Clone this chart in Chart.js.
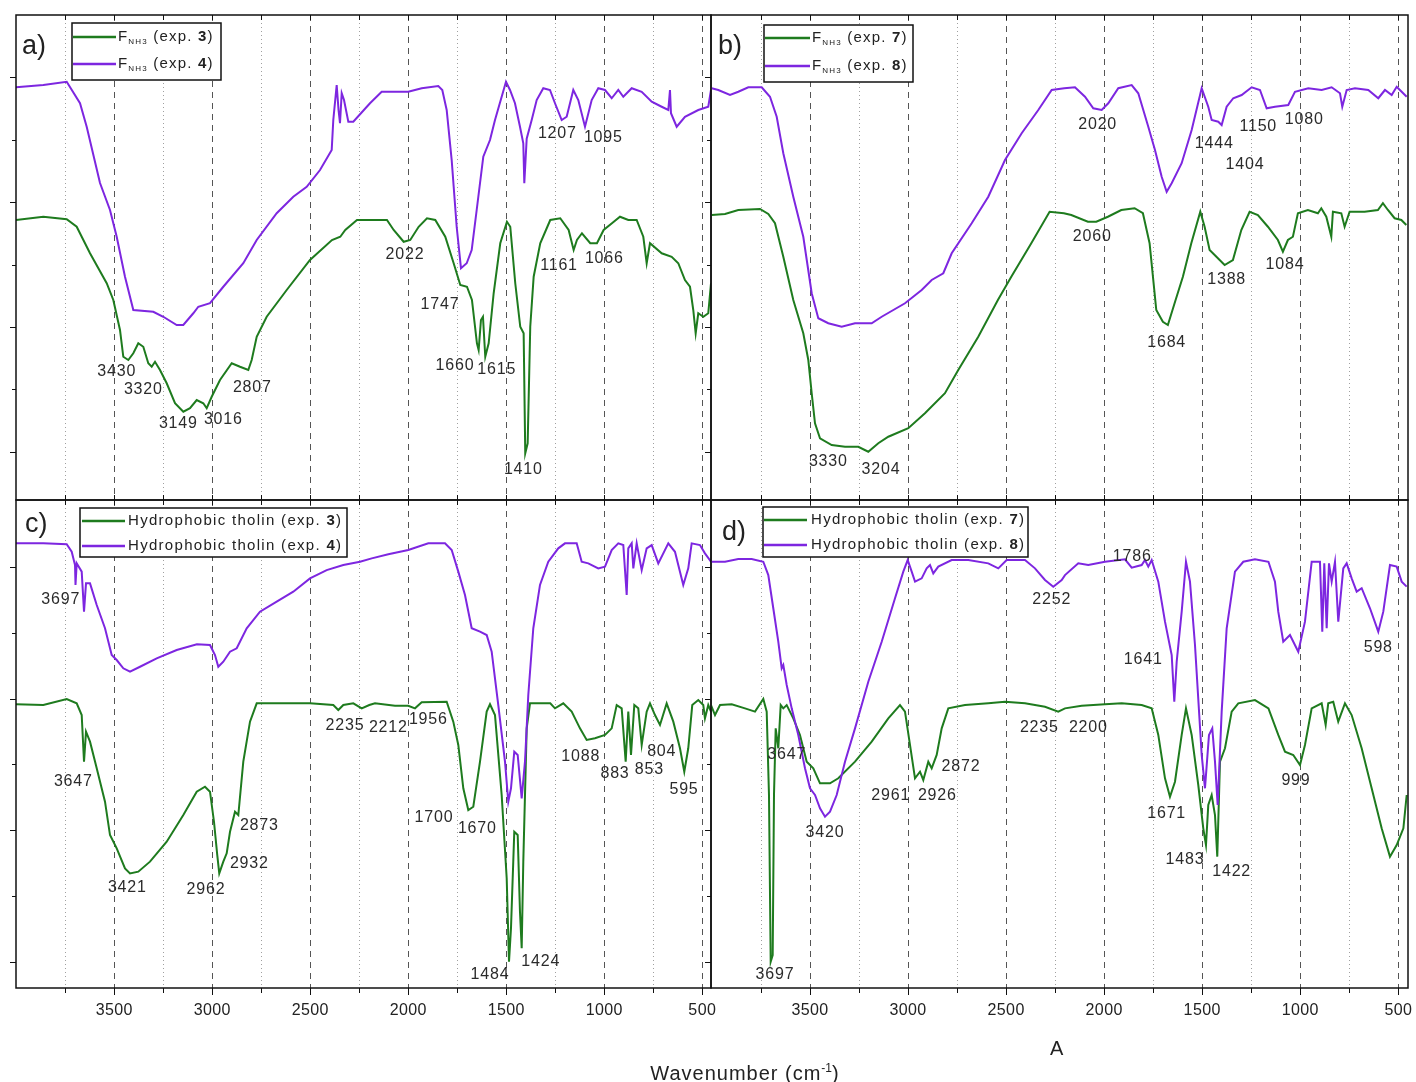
<!DOCTYPE html>
<html>
<head>
<meta charset="utf-8">
<script src="https://cdn.jsdelivr.net/npm/chart.js@4.4.1/dist/chart.umd.min.js"></script>
<style>
body { margin: 0; background: #fff; }
#wrap { position: relative; width: 1416px; height: 1082px; overflow: hidden; font-family: "Liberation Sans", Arial, sans-serif; color: #222; }
canvas { position: absolute; }
#xTitle { position: absolute; left: 545px; width: 400px; top: 1056px; text-align: center; font-size: 20px; line-height: 24px; letter-spacing: 1px; white-space: nowrap; }
#xTitle sup { font-size: 12px; letter-spacing: 0; }
#stray { position: absolute; left: 1050px; top: 1036px; font-size: 20px; line-height: 24px; }
</style>
</head>
<body>
<div id="wrap">
    <canvas id="panelA" width="712" height="501" style="left:0;top:0"></canvas>
    <canvas id="panelB" width="716" height="501" style="left:700px;top:0"></canvas>
    <canvas id="panelC" width="730" height="594" style="left:0;top:488px"></canvas>
    <canvas id="panelD" width="716" height="594" style="left:700px;top:488px"></canvas>
    <div id="xTitle">Wavenumber (cm<sup>-1</sup>)</div>
    <div id="stray">A</div>
</div>
<script>
// axis ticks (wavenumber, cm-1) and relative transmittance ticks
const xMajor = [3500, 3000, 2500, 2000, 1500, 1000, 500];
const xMinor = [3750, 3250, 2750, 2250, 1750, 1250, 750];
const yMajor = [0, 10, 20, 30];
const yMinor = [5, 15, 25];

// experiment numbers shown in the legends
const expA = [3, 4];
const expB = [7, 8];
const expC = [3, 4];
const expD = [7, 8];

// a) F_NH3 exp. 3 / exp. 4   [wavenumber, transmittance]
const aExp3 = [[4001.6,18.56],[3862.3,18.82],[3742.9,18.62],[3691.9,18.02],[3624,15.9],[3538.8,13.5],[3505.1,12.16],[3471,9.76],[3454.1,7.62],[3428.6,7.36],[3403.1,7.9],[3377.6,8.7],[3352.1,8.42],[3326.6,7.1],[3309.2,6.82],[3292.4,7.22],[3266.9,6.56],[3232.7,5.5],[3190.3,3.9],[3147.9,3.22],[3113.8,3.5],[3079.6,4.16],[3045.9,3.9],[3028.6,3.5],[3003.1,4.42],[2960.8,5.76],[2901,7.1],[2858.7,6.82],[2816.4,6.56],[2799.1,7.36],[2773.5,9.22],[2722.5,10.82],[2620.5,12.96],[2501.6,15.36],[2389.5,16.96],[2347,17.22],[2321.6,17.76],[2261.9,18.56],[2210.9,18.56],[2108.9,18.56],[2074.7,17.76],[2023.7,16.82],[1990,16.96],[1947.2,18.02],[1904.8,18.7],[1862.4,18.56],[1811.4,17.22],[1768.6,15.1],[1734.8,13.36],[1700.7,13.22],[1675.3,12.16],[1649.8,8.7],[1641.1,8.16],[1629.3,10.56],[1619.1,10.82],[1607.3,7.62],[1590,8.7],[1564.5,12.7],[1530.8,16.7],[1496.7,18.42],[1479.8,18.02],[1454.3,13.5],[1428.8,10.02],[1411.5,9.5],[1403.3,-0.1],[1391,0.7],[1377.8,10.02],[1360.4,14.02],[1326.8,16.7],[1275.7,18.56],[1224.7,18.7],[1181.9,17.76],[1156.4,16.16],[1139.6,16.96],[1114,17.5],[1071.7,16.7],[1037.5,16.7],[1003.4,17.76],[961,18.3],[920,18.82],[877.6,18.56],[834.8,18.56],[801,17.22],[783.8,15.1],[766.9,16.7],[707.2,15.9],[656.2,15.62],[622.5,15.1],[588.4,13.76],[562.8,13.22],[546,11.36],[533.8,9.5],[520.5,11.1],[495,10.82],[469.5,11.1],[455.6,13.5]];
const aExp4 = [[4001.6,29.18],[3862.3,29.36],[3742.9,29.62],[3675,27.9],[3640.9,26.02],[3573,21.52],[3522,19.36],[3487.8,17.22],[3445.5,14.02],[3403,11.36],[3301,11.22],[3250,10.82],[3181.7,10.16],[3148,10.16],[3097,11.1],[3071.5,11.62],[3011.8,11.9],[2943.9,13.22],[2841.9,15.1],[2773.5,16.96],[2671.5,19.1],[2586.8,20.42],[2518.4,21.22],[2450.5,22.56],[2390.8,24.16],[2382.7,26.56],[2365.4,29.36],[2356,27.36],[2348.5,26.3],[2339.8,28.7],[2328,28.16],[2306,26.42],[2280.6,26.42],[2195.5,27.9],[2135.9,28.82],[2000.2,28.82],[1931.7,29.1],[1847,29.28],[1826.6,28.96],[1804.2,27.36],[1778.7,23.36],[1753.2,18.02],[1731.2,14.7],[1702.1,15.1],[1676.6,16.16],[1651.1,19.36],[1617.4,23.62],[1583.2,24.96],[1557.7,26.56],[1523.6,28.42],[1501.6,29.62],[1481.2,28.96],[1455.7,27.9],[1430.2,26.02],[1413.3,24.7],[1408.2,21.5],[1396,25.06],[1370.5,26.56],[1345,28.16],[1311.3,29.1],[1277.1,28.96],[1251.6,27.9],[1217.4,26.56],[1191.9,26.82],[1158.2,28.96],[1132.7,28.16],[1098.5,26.02],[1064.4,28.16],[1030.7,29.1],[996.5,28.96],[962.3,28.3],[928.6,28.96],[903.1,28.42],[860.2,29.1],[809.2,28.82],[758.2,28.02],[707.2,27.62],[673.5,27.36],[664.9,28.96],[659.8,27.1],[630.7,26.02],[588.4,26.82],[520.5,27.36],[469.5,27.62],[455.6,28.96]];

// b) F_NH3 exp. 7 / exp. 8
const bExp7 = [[4001.2,18.96],[3933.4,19.04],[3865.6,19.36],[3754.9,19.44],[3712.6,19.04],[3678.5,18.3],[3636.1,15.62],[3585.2,12.16],[3534.2,9.5],[3508.7,7.36],[3491.3,4.7],[3474.5,2.3],[3449,1.1],[3389.3,0.56],[3321.5,0.42],[3253.7,0.42],[3202.7,0.02],[3151.7,0.7],[3100.7,1.22],[2998.7,1.9],[2913.8,3.1],[2811.8,4.7],[2744,6.56],[2642,9.22],[2541.9,12.16],[2473.6,14.02],[2371.6,16.7],[2278.3,19.22],[2205.4,19.1],[2167.6,18.96],[2083,18.42],[2040.2,18.42],[1981,18.82],[1912.7,19.36],[1844.9,19.5],[1802.5,19.1],[1768.4,16.7],[1734.2,11.36],[1700.6,10.42],[1675.1,10.16],[1640.9,11.9],[1598.6,14.02],[1555.7,16.7],[1509.8,19.22],[1487.8,18.02],[1462.3,16.16],[1420,15.5],[1385.8,14.96],[1343.5,15.36],[1300.7,17.76],[1258.4,19.22],[1216.1,18.96],[1165.1,18.02],[1114.1,16.96],[1088.6,16.02],[1063.1,16.96],[1037.6,17.22],[1012.1,19.1],[961.1,19.36],[910.1,19.1],[892.8,19.5],[867.3,18.82],[841.8,17.22],[833.6,19.22],[790.8,19.1],[773.9,18.02],[748.4,19.22],[671.9,19.22],[604.1,19.36],[578.6,19.9],[553.1,19.36],[518.9,18.7],[484.7,18.56],[459.3,18.16]];
const bExp8 = [[4001.2,29.1],[3967.6,28.96],[3907.9,28.56],[3865.6,28.82],[3814.6,29.18],[3746.3,29.18],[3704,28.42],[3669.8,26.82],[3636.1,23.9],[3585.2,20.42],[3534.2,17.22],[3491.3,12.7],[3457.7,10.7],[3406.7,10.3],[3338.4,10.02],[3270.5,10.3],[3185.4,10.3],[3134.4,10.82],[3015.6,11.9],[2930.5,12.96],[2879.5,13.76],[2820.3,14.3],[2777.5,15.9],[2675.5,18.3],[2590.9,20.42],[2505.7,23.36],[2420.6,25.5],[2335.9,27.36],[2267.6,28.96],[2203.4,29.1],[2148.8,29.18],[2097.8,28.42],[2055.5,27.5],[2012.7,27.36],[1979,27.9],[1928,29.1],[1859.7,29.36],[1826,28.7],[1775,26.02],[1740.9,24.16],[1706.8,22.02],[1681.3,20.82],[1655.8,21.5],[1604.8,23.1],[1553.8,25.76],[1502.8,29.1],[1469.2,27.62],[1451.8,26.56],[1418.2,26.42],[1400.9,26.16],[1375.4,27.62],[1341.7,28.3],[1298.9,28.56],[1247.9,29.18],[1205.5,28.96],[1171.4,27.5],[1129.1,27.62],[1061.2,27.76],[1027.1,28.82],[959.3,29.1],[891,28.96],[840,29.18],[797.5,28.7],[785.8,27.62],[763.4,28.96],[721.1,29.1],[653.2,28.96],[602.2,28.3],[568.1,28.96],[533.9,28.56],[508.4,29.22],[482.9,28.82],[457.4,28.42]];

// c) hydrophobic tholin exp. 3 / exp. 4
const cExp3 = [[4001.6,19.57],[3862.3,19.51],[3742.9,19.97],[3691.9,19.64],[3666.4,18.75],[3654.6,15.21],[3644.4,17.49],[3624,16.73],[3589.8,14.71],[3547.5,12.17],[3522,9.64],[3487.8,8.63],[3445.5,7.11],[3419.9,6.73],[3377.6,6.86],[3318,7.62],[3232.7,9.13],[3147.9,11.16],[3079.6,12.93],[3037.3,13.31],[3011.8,12.93],[2991.4,10.65],[2974.7,8.12],[2964.5,6.73],[2943.9,7.62],[2926.6,8.25],[2909.7,9.89],[2884.2,11.41],[2867.3,11.16],[2841.9,15.21],[2807.7,18.25],[2773.5,19.64],[2671.5,19.64],[2501.6,19.64],[2382.7,19.51],[2357.2,19.13],[2331.6,19.51],[2280.6,19.64],[2237.8,19.26],[2199,19.51],[2170,19.64],[2068,19.46],[2000.2,19.46],[1965.9,19.26],[1931.7,19.72],[1804.2,19.76],[1770.5,18.25],[1744.9,16.48],[1719.4,13.19],[1693.9,11.54],[1668.4,11.79],[1634.2,15.21],[1600.1,19.01],[1583.2,19.57],[1557.7,18.75],[1523.6,12.68],[1498,6.36],[1486.2,0.02],[1476.1,2.56],[1459.3,9.89],[1441.9,9.64],[1430.2,3.82],[1421.5,1.04],[1413.3,7.62],[1396,17.74],[1379.1,19.64],[1275.7,19.64],[1251.6,19.26],[1209.3,19.64],[1166.4,19.01],[1124.1,17.74],[1089.9,16.86],[1047.6,16.99],[996.5,17.24],[962.3,17.74],[936.8,19.51],[911.3,19.26],[890.9,15.21],[877.6,19.01],[863.8,15.72],[846.9,19.51],[826.6,19.26],[809.2,16.48],[783.8,19.01],[766.9,19.64],[741.4,18.75],[715.9,18],[681.8,19.64],[647.9,18.25],[613.9,16.23],[591.9,14.45],[571.6,16.23],[551.2,19.51],[520.5,19.89],[495,19.51],[486.4,18.5],[469.5,19.51],[455.6,19.01]];
const cExp4 = [[4001.6,31.79],[3862.3,31.79],[3742.9,31.72],[3717.4,31.15],[3700.5,30.14],[3698,28.63],[3691.9,30.27],[3666.4,29.64],[3654.6,26.6],[3644.4,28.75],[3624,28.75],[3589.8,27.11],[3547.5,25.34],[3513.3,23.31],[3487.8,22.93],[3454.1,22.3],[3419.9,22.04],[3368.9,22.42],[3283.7,23.06],[3181.7,23.69],[3078.7,24.12],[3011.8,24.07],[2986.3,23.31],[2969.4,22.42],[2943.9,22.8],[2909.7,23.56],[2875.5,23.82],[2824.5,25.34],[2756.7,26.6],[2671.5,27.36],[2586.8,28.12],[2501.6,29.13],[2416.5,29.76],[2331.6,30.14],[2246.4,30.39],[2186.7,30.65],[2102,30.96],[2000,31.28],[1897.9,31.79],[1812.8,31.79],[1778.6,31.28],[1744.9,29.64],[1710.8,27.87],[1676.6,25.34],[1634.2,25.08],[1600.1,24.83],[1574.6,23.56],[1540.9,19.51],[1506.7,15.21],[1489.9,12.17],[1476.1,13.19],[1459.3,15.97],[1441.9,15.72],[1421.5,12.43],[1404.7,15.21],[1387.8,20.27],[1362.3,25.34],[1328.1,28.63],[1285.8,30.39],[1234.8,31.41],[1200.6,31.79],[1140.9,31.79],[1115.4,30.39],[1081.7,30.27],[1030.7,29.89],[996.5,30.02],[962.3,31.28],[928.6,31.79],[903.1,31.66],[885.8,27.87],[877.6,31.41],[860.2,31.79],[852,29.89],[834.8,31.79],[809.2,29.76],[783.8,31.41],[758.2,31.66],[724.6,30.27],[673.5,31.79],[639.4,31.15],[597.1,28.63],[571.6,29.89],[554.2,31.79],[511.9,31.66],[486.4,31.03],[455.6,30.39]];

// d) hydrophobic tholin exp. 7 / exp. 8
const dExp7 = [[4004.8,19.51],[3984.4,18.75],[3958.9,19.51],[3899.3,19.57],[3831.4,19.26],[3780.4,19.01],[3738.1,19.97],[3720.8,19.01],[3709.1,12.68],[3700.4,0.02],[3690.2,0.53],[3683.6,12.68],[3674.9,17.74],[3661.6,16.23],[3649.4,19.51],[3636.1,19.26],[3618.8,19.51],[3585.2,18.5],[3551.1,17.24],[3516.8,15.21],[3483.2,14.71],[3449,13.57],[3398,13.57],[3355.7,13.95],[3270.5,15.21],[3185.4,16.73],[3100.7,18.5],[3041.1,19.51],[3015.6,19.01],[2990.1,16.48],[2964.6,13.95],[2939.1,14.45],[2922.3,13.82],[2896.8,15.21],[2879.5,14.71],[2854,15.72],[2828.5,17.74],[2794.8,19.26],[2709.7,19.51],[2590.9,19.64],[2505.7,19.76],[2403.8,19.64],[2301.8,19.38],[2234,19.01],[2199.8,19.26],[2114.7,19.46],[1995.8,19.57],[1910.7,19.64],[1808.7,19.51],[1757.7,19.26],[1724,17.24],[1689.8,13.95],[1664.4,12.55],[1638.9,13.69],[1604.7,17.24],[1582.8,19.26],[1553.8,17.24],[1520.1,13.44],[1494.6,10.15],[1480.8,8.88],[1469.1,11.92],[1451.8,12.68],[1434.9,11.16],[1423.2,8],[1409.4,15.21],[1383.9,16.23],[1349.8,19.01],[1316.1,19.64],[1231,19.89],[1162.3,19.26],[1112.2,17.24],[1078,15.97],[1035.7,15.72],[1001.5,14.96],[976.1,16.48],[941.9,19.26],[891,19.64],[870.6,18],[857.4,19.64],[831.9,19.76],[806.4,18.25],[772.2,19.64],[738,18.75],[687,16.23],[636,13.19],[585,10.15],[542.6,8],[508.4,8.88],[474.3,10.15],[457.4,12.68]];
const dExp8 = [[4004.8,30.39],[3933.4,30.39],[3865.6,30.6],[3797.3,30.6],[3738.1,30.39],[3712.6,29.38],[3687.2,26.86],[3661.7,24.32],[3644.3,22.3],[3636.1,22.55],[3618.8,21.03],[3593.3,19.26],[3559.7,17.24],[3525.5,14.71],[3500,13.19],[3474.5,12.68],[3449,11.67],[3423.5,11.03],[3398,11.41],[3363.9,12.68],[3321.5,15.21],[3270.5,17.74],[3202.7,21.28],[3134.4,24.32],[3066.5,27.62],[3024.2,29.64],[3001.8,30.52],[2981.4,29.64],[2964.5,28.88],[2930.5,29.13],[2905,29.89],[2888.1,30.14],[2871.3,29.51],[2845.8,30.02],[2777.5,30.52],[2692.8,30.52],[2590.9,30.27],[2539.9,29.89],[2497.1,30.52],[2403.8,30.52],[2352.8,29.89],[2301.8,29.01],[2259.5,28.5],[2216.6,29.01],[2199.8,29.38],[2132,30.27],[2081,30.14],[1995.8,30.39],[1893.8,30.58],[1859.7,29.94],[1808.7,30.14],[1791.8,30.52],[1775,30.02],[1757.7,30.52],[1724,28.88],[1689.8,25.84],[1655.7,23.31],[1642.4,19.76],[1630.2,22.8],[1604.7,26.6],[1582.8,30.39],[1562.4,28.88],[1536.9,24.07],[1502.7,15.72],[1485.9,13.19],[1465.5,17.24],[1448.7,17.74],[1434.9,15.21],[1421.2,11.92],[1400.8,19.01],[1375.3,25.34],[1333,29.64],[1290.6,30.39],[1231,30.58],[1162.3,30.39],[1129.1,28.88],[1112.2,26.6],[1086.7,24.32],[1052.6,24.83],[1010.2,23.56],[976.1,25.84],[941.9,30.39],[899.6,30.39],[887.8,25.08],[877.6,30.27],[865.4,25.34],[853.6,30.27],[839.9,28.88],[823,30.39],[806.2,25.84],[780.7,29.89],[763.4,30.27],[737.9,29.13],[712.4,28.12],[686.9,28.38],[644.6,26.86],[602.2,25.08],[576.7,26.6],[542.6,30.14],[508.4,30.02],[482.9,28.88],[457.4,28.5]];

// peak labels: [text, wavenumber, transmittance] of the label centre
const aPeaks = [['3430',3487.8,6.42],['3320',3352.1,5.02],['3149',3173.5,2.3],['3016',2943.9,2.56],['2807',2796,5.14],['2022',2016.9,15.76],['1747',1838.3,11.82],['1660',1761.8,6.88],['1615',1549,6.56],['1410',1413.3,-1.44],['1161',1231.2,14.88],['1066',1000,15.5],['1207',1239.8,25.5],['1095',1005.2,25.18]];
const bPeaks = [['3330',3406.7,-0.78],['3204',3138,-1.44],['2020',2033.2,26.16],['2060',2060.7,17.22],['1444',1438.6,24.7],['1404',1282.1,22.96],['1150',1214.3,26.0],['1080',979.7,26.56],['1388',1375.4,13.8],['1084',1078,14.96],['1684',1681.3,8.74]];
const cPeaks = [['3697',3773.5,27.49],['3647',3709.2,13.71],['3421',3433.7,5.64],['2962',3032.2,5.52],['2932',2811.3,7.49],['2873',2760.2,10.35],['2235',2323,17.94],['2212',2102,17.82],['1956',1898,18.43],['1700',1869,10.98],['1670',1648.1,10.1],['1484',1583.2,-0.99],['1424',1324.5,0.02],['1088',1120.4,15.59],['883',945.4,14.33],['853',770.4,14.64],['804',707.2,15.99],['595',593.4,13.07]];
const dPeaks = [['3697',3678.5,-0.99],['3647',3618.8,15.72],['3420',3423.5,9.81],['2961',3088.5,12.6],['2926',2851,12.6],['2872',2730.1,14.83],['2235',2330.8,17.82],['2252',2267.6,27.49],['2200',2081,17.82],['1786',1856.7,30.75],['1641',1800.6,22.97],['1671',1681.3,11.29],['1483',1588,7.75],['1422',1350,6.86],['999',1022,13.75],['598',602.4,23.86]];

const GREEN = '#1e7b1e';
const PURPLE = '#7d26e0';
const FONT = '"Liberation Sans", Arial, sans-serif';

// draws a run of text pieces (for subscripts / bold numbers)
function drawParts(ctx, parts, x, y) {
    parts.forEach(p => {
        ctx.font = (p.bold ? 'bold ' : '') + p.size + 'px ' + FONT;
        ctx.fillText(p.t, x, y + (p.dy || 0));
        x += ctx.measureText(p.t).width;
    });
}

const decor = {
    id: 'decor',
    beforeDatasetsDraw(chart, args, o) {
        const { ctx, chartArea: a, scales: { x } } = chart;
        ctx.save();
        ctx.lineWidth = 1;
        xMajor.concat(xMinor).forEach(w => {
            const px = Math.round(x.getPixelForValue(w)) + 0.5;
            if (px <= a.left + 1 || px >= a.right - 1) return;
            const major = xMajor.includes(w);
            ctx.strokeStyle = major ? '#555' : '#a0a0a0';
            ctx.setLineDash(major ? [6, 5] : [1, 3]);
            ctx.beginPath();
            ctx.moveTo(px, a.top);
            ctx.lineTo(px, a.bottom);
            ctx.stroke();
        });
        ctx.restore();
    },
    afterDatasetsDraw(chart, args, o) {
        const { ctx, scales: { x, y } } = chart;
        ctx.save();
        ctx.font = '16px ' + FONT;
        ctx.letterSpacing = '0.8px';
        ctx.fillStyle = '#2b2b2b';
        ctx.textAlign = 'center';
        ctx.textBaseline = 'middle';
        (o.peaks || []).forEach(([t, w, v]) => {
            ctx.fillText(t, x.getPixelForValue(w), y.getPixelForValue(v));
        });
        ctx.restore();
    },
    afterDraw(chart, args, o) {
        const { ctx, chartArea: a, scales: { x, y } } = chart;
        ctx.save();
        ctx.strokeStyle = '#111';
        ctx.lineWidth = 1;

        // y ticks, pointing out to the left
        yMajor.concat(yMinor).forEach(v => {
            const py = Math.round(y.getPixelForValue(v)) + 0.5;
            const len = yMajor.includes(v) ? 6 : 4;
            ctx.beginPath();
            ctx.moveTo(a.left - len, py);
            ctx.lineTo(a.left, py);
            ctx.stroke();
        });

        // x ticks
        xMajor.concat(xMinor).forEach(w => {
            const px = Math.round(x.getPixelForValue(w)) + 0.5;
            const major = xMajor.includes(w);
            ctx.beginPath();
            ctx.moveTo(px, a.top);
            ctx.lineTo(px, a.top + 5);
            if (o.bottomAxis) {
                ctx.moveTo(px, a.bottom);
                ctx.lineTo(px, a.bottom + (major ? 7 : 5));
            } else {
                ctx.moveTo(px, a.bottom);
                ctx.lineTo(px, a.bottom - 5);
            }
            ctx.stroke();
        });

        if (o.bottomAxis) {
            ctx.fillStyle = '#222';
            ctx.font = '16px ' + FONT;
            ctx.letterSpacing = '0.4px';
            ctx.textAlign = 'center';
            ctx.textBaseline = 'middle';
            xMajor.forEach(w => ctx.fillText(String(w), x.getPixelForValue(w), a.bottom + 23));
            ctx.letterSpacing = '0px';
        }

        // frame
        ctx.lineWidth = 1.5;
        ctx.strokeRect(a.left, a.top, a.right - a.left, a.bottom - a.top);

        // panel letter
        ctx.fillStyle = '#222';
        ctx.textAlign = 'left';
        ctx.textBaseline = 'alphabetic';
        ctx.font = '27px ' + FONT;
        ctx.fillText(o.letter, a.left + o.letterPos[0], a.top + o.letterPos[1]);

        // legend
        const L = o.legend;
        const bx = a.left + L.box[0], by = a.top + L.box[1];
        ctx.fillStyle = '#fff';
        ctx.fillRect(bx, by, L.box[2], L.box[3]);
        ctx.lineWidth = 1.5;
        ctx.strokeStyle = '#111';
        ctx.strokeRect(bx, by, L.box[2], L.box[3]);
        ctx.textBaseline = 'middle';
        ctx.letterSpacing = L.spacing;
        L.rows.forEach((r, i) => {
            const ly = a.top + L.rowY[i];
            ctx.strokeStyle = r.color;
            ctx.lineWidth = 2.5;
            ctx.beginPath();
            ctx.moveTo(a.left + L.line[0], ly);
            ctx.lineTo(a.left + L.line[1], ly);
            ctx.stroke();
            ctx.fillStyle = '#222';
            drawParts(ctx, r.parts, a.left + L.textX, ly);
        });
        ctx.restore();
    }
};

function fnh3Parts(n) {
    return [
        { t: 'F', size: 15 },
        { t: 'NH3', size: 8, dy: 5 },
        { t: ' (exp. ', size: 15 },
        { t: String(n), size: 15, bold: true },
        { t: ')', size: 15 }
    ];
}

function tholinParts(n) {
    return [
        { t: 'Hydrophobic tholin (exp. ', size: 15 },
        { t: String(n), size: 15, bold: true },
        { t: ')', size: 15 }
    ];
}

function makePanel(id, green, purple, cfg) {
    return new Chart(document.getElementById(id), {
        type: 'line',
        data: {
            datasets: [
                { data: green.map(([w, v]) => ({ x: w, y: v })), borderColor: GREEN, borderWidth: 2, pointRadius: 0, tension: 0, order: 2 },
                { data: purple.map(([w, v]) => ({ x: w, y: v })), borderColor: PURPLE, borderWidth: 2, pointRadius: 0, tension: 0, order: 1 }
            ]
        },
        options: {
            responsive: false,
            animation: false,
            devicePixelRatio: 1,
            layout: { padding: cfg.pad },
            scales: {
                x: { type: 'linear', reverse: true, min: cfg.xRange[0], max: cfg.xRange[1], display: false },
                y: { type: 'linear', min: cfg.yRange[0], max: cfg.yRange[1], display: false }
            },
            plugins: {
                legend: { display: false },
                tooltip: { enabled: false },
                decor: cfg.decor
            }
        },
        plugins: [decor]
    });
}

makePanel('panelA', aExp3, aExp4, {
    pad: { left: 16, top: 15, right: 1, bottom: 1 },
    xRange: [455.6, 4001.6],
    yRange: [-3.84, 34.96],
    decor: {
        peaks: aPeaks, letter: 'a)', letterPos: [6, 39], bottomAxis: false,
        legend: {
            box: [56, 8, 149, 57], line: [57, 100], textX: 102, rowY: [22, 49], spacing: '1.2px',
            rows: [{ color: GREEN, parts: fnh3Parts(expA[0]) }, { color: PURPLE, parts: fnh3Parts(expA[1]) }]
        }
    }
});

makePanel('panelB', bExp7, bExp8, {
    pad: { left: 11, top: 15, right: 8, bottom: 1 },
    xRange: [450.7, 4004.8],
    yRange: [-3.84, 34.96],
    decor: {
        peaks: bPeaks, letter: 'b)', letterPos: [7, 39], bottomAxis: false,
        legend: {
            box: [53, 10, 149, 57], line: [54, 99], textX: 101, rowY: [23, 51], spacing: '1.2px',
            rows: [{ color: GREEN, parts: fnh3Parts(expB[0]) }, { color: PURPLE, parts: fnh3Parts(expB[1]) }]
        }
    }
});

makePanel('panelC', cExp3, cExp4, {
    pad: { left: 16, top: 12, right: 19, bottom: 94 },
    xRange: [455.6, 4001.6],
    yRange: [-1.974, 35.08],
    decor: {
        peaks: cPeaks, letter: 'c)', letterPos: [9, 32], bottomAxis: true,
        legend: {
            box: [64, 8, 267, 49], line: [66, 109], textX: 112, rowY: [21, 46], spacing: '1.3px',
            rows: [{ color: GREEN, parts: tholinParts(expC[0]) }, { color: PURPLE, parts: tholinParts(expC[1]) }]
        }
    }
});

makePanel('panelD', dExp7, dExp8, {
    pad: { left: 11, top: 12, right: 8, bottom: 94 },
    xRange: [450.7, 4004.8],
    yRange: [-1.974, 35.08],
    decor: {
        peaks: dPeaks, letter: 'd)', letterPos: [11, 40], bottomAxis: true,
        legend: {
            box: [52, 7, 265, 50], line: [53, 96], textX: 100, rowY: [20, 45], spacing: '1.3px',
            rows: [{ color: GREEN, parts: tholinParts(expD[0]) }, { color: PURPLE, parts: tholinParts(expD[1]) }]
        }
    }
});
</script>
</body>
</html>
